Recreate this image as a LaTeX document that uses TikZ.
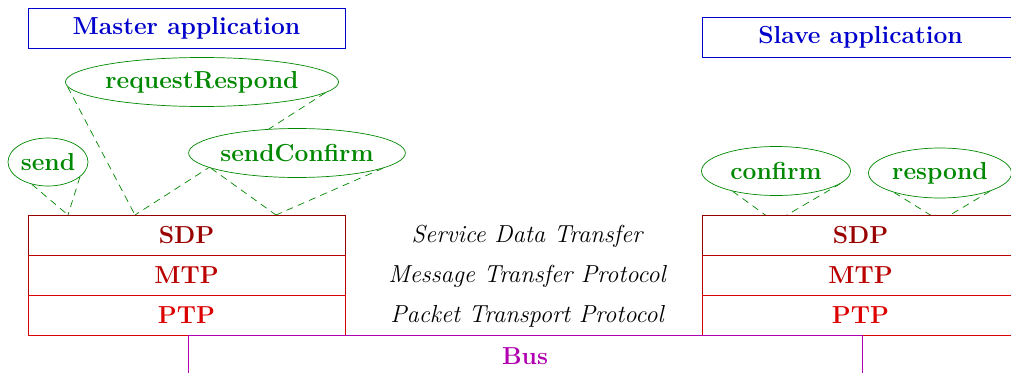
\documentclass[tikz,border=0pt]{standalone}
\usetikzlibrary{shapes.geometric,backgrounds}
\definecolor{appblue}{RGB}{0,0,204}
\definecolor{primgreen}{RGB}{0,136,0}
\definecolor{sdpred}{RGB}{153,0,0}
\definecolor{mtpred}{RGB}{187,0,0}
\definecolor{ptpred}{RGB}{221,0,0}
\definecolor{busmag}{RGB}{176,0,176}
\newcommand{\labfont}{\fontsize{14}{17}\selectfont}
\begin{document}
\begin{tikzpicture}[
        x=0.02cm, y=-0.02cm,
        app/.style={draw=appblue, text=appblue, fill=white, font=\labfont\bfseries,
            minimum width=6.34cm, minimum height=0.8cm},
        prim/.style={ellipse, draw=primgreen, text=primgreen, fill=white, font=\labfont\bfseries,
            inner sep=0pt, minimum height=0.98cm},
        layerbox/.style={draw=#1, text=#1, fill=white, font=\labfont\bfseries,
            minimum width=6.34cm, minimum height=0.8cm},
        proto/.style={font=\labfont\itshape},
        link/.style={primgreen, dash pattern=on 4pt off 3pt}
    ]
        \useasboundingbox (0,0) rectangle (1011,372);

        % applications
        \node[app] (master) at (186.5,28) {Master application};
        \node[app] (slave) at (860.5,37) {Slave application};

        % service primitives
        \node[prim, minimum width=5.34cm] (rr) at (202,82) {requestRespond};
        \node[prim, minimum width=1.6cm, minimum height=0.96cm] (sd) at (48,162) {send};
        \node[prim, minimum width=4.16cm] (sc) at (297,153) {sendConfirm};
        \node[prim, minimum width=2.98cm] (cf) at (776,171) {confirm};
        \node[prim, minimum width=2.86cm, minimum height=1cm] (rp) at (940,173) {respond};

        % protocol stacks
        \node[layerbox=sdpred] (sdpL) at (186.5,235) {SDP};
        \node[layerbox=mtpred] (mtpL) at (186.5,275) {MTP};
        \node[layerbox=ptpred] (ptpL) at (186.5,315) {PTP};
        \node[layerbox=sdpred] (sdpR) at (860.5,235) {SDP};
        \node[layerbox=mtpred] (mtpR) at (860.5,275) {MTP};
        \node[layerbox=ptpred] (ptpR) at (860.5,315) {PTP};

        \node[proto] (sdt) at (527,236) {Service Data Transfer};
        \node[proto] (mtp) at (527,276) {Message Transfer Protocol};
        \node[proto] (ptp) at (527,316) {Packet Transport Protocol};

        % bus
        \node[draw=busmag, text=busmag, font=\labfont\bfseries, minimum width=13.48cm,
            minimum height=0.84cm] (bus) at (525,356) {Bus};

        % feet of the dashed links
        \coordinate (sdFoot) at (68,215);
        \coordinate (rrFoot) at (135,215);
        \coordinate (scFoot) at (276,215);
        \coordinate (cfFoot) at (775,222);
        \coordinate (rpFoot) at (940,221);

        \begin{scope}[on background layer]
            \draw[link] (sd.234) -- (sdFoot);
            \draw[link] (sd.335) -- (sdFoot);
            \draw[link] (rr.182) -- (rrFoot);
            \draw[link] (rr.355) -- (rrFoot);
            \draw[link] (sc.190) -- (scFoot);
            \draw[link] (sc.350) -- (scFoot);
            \draw[link] (cf.205) -- (cfFoot);
            \draw[link] (cf.349) -- (cfFoot);
            \draw[link] (rp.203) -- (rpFoot);
            \draw[link] (rp.340) -- (rpFoot);
        \end{scope}
    \end{tikzpicture}
\end{document}
